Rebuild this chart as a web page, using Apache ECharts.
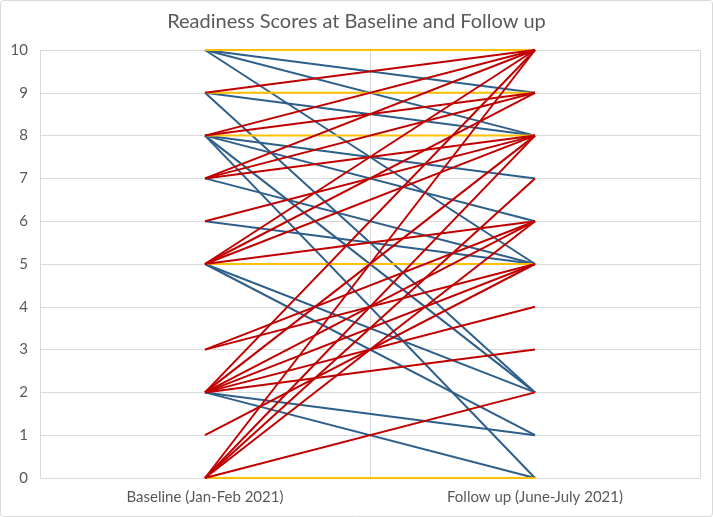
<!DOCTYPE html>
<html>
<head>
<meta charset="utf-8">
<script src="https://cdn.jsdelivr.net/npm/echarts@6/dist/echarts.min.js"></script>
<style>
  html, body { margin: 0; padding: 0; background: #fff; }
  #chart { width: 713px; height: 517px; }
</style>
</head>
<body>
<div id="chart"></div>
<script>
// Categories (x axis)
const categories = ['Baseline (Jan-Feb 2021)', 'Follow up (June-July 2021)'];
// Y tick labels
const yTicks = [0, 1, 2, 3, 4, 5, 6, 7, 8, 9, 10];
// One entry per participant: baseline score and follow-up score
const baseline = [10, 10, 10, 9, 9, 8, 8, 8, 8, 7, 6, 5, 5, 2, 2,
                  10, 9, 8, 5, 0,
                  9, 8, 8, 7, 7, 7, 6, 5, 5, 5, 5, 3, 3, 2, 2, 2, 2, 2, 2, 1, 0, 0, 0, 0, 0];
const followup = [9, 8, 5, 8, 2, 7, 6, 2, 0, 5, 5, 2, 1, 1, 0,
                  10, 9, 8, 5, 0,
                  10, 10, 9, 10, 9, 8, 8, 10, 9, 8, 6, 6, 5, 10, 8, 6, 5, 4, 3, 5, 10, 8, 7, 6, 2];

const COLOR_DOWN = '#2E5F8A';
const COLOR_UP = '#C00000';
const COLOR_SAME = '#FFC000';

const chart = echarts.init(document.getElementById('chart'), null, { renderer: 'canvas' });

const order = [];
baseline.forEach((b, i) => { if (followup[i] < b) order.push(i); });
baseline.forEach((b, i) => { if (followup[i] === b) order.push(i); });
baseline.forEach((b, i) => { if (followup[i] > b) order.push(i); });

const series = order.map(i => {
  const b = baseline[i], f = followup[i];
  const c = f > b ? COLOR_UP : (f < b ? COLOR_DOWN : COLOR_SAME);
  return {
    type: 'line',
    data: [b, f],
    symbol: 'none',
    silent: true,
    animation: false,
    lineStyle: { color: c, width: 2 }
  };
});

chart.setOption({
  animation: false,
  backgroundColor: '#fff',
  title: {
    text: 'Readiness Scores at Baseline and Follow up',
    left: 'center',
    top: 7,
    textStyle: { fontFamily: 'Lato', fontSize: 20, fontWeight: 'normal', color: '#595959' }
  },
  grid: { left: 40, right: 13, top: 50, bottom: 39, containLabel: false },
  xAxis: {
    type: 'category',
    data: categories,
    boundaryGap: true,
    axisLine: { show: true, lineStyle: { color: '#D9D9D9', width: 1 } },
    axisTick: { show: false },
    splitLine: { show: true, lineStyle: { color: '#D9D9D9', width: 1 } },
    axisLabel: { margin: 12, fontFamily: 'Lato', fontSize: 15, color: '#595959' }
  },
  yAxis: {
    type: 'value',
    min: yTicks[0],
    max: yTicks[yTicks.length - 1],
    interval: 1,
    axisLine: { show: false },
    axisTick: { show: false },
    splitLine: { show: true, lineStyle: { color: '#D9D9D9', width: 1 } },
    axisLabel: { margin: 12, fontFamily: 'Lato', fontSize: 15, color: '#595959' }
  },
  graphic: [{
    type: 'rect',
    shape: { x: 0.5, y: 0.5, width: 712, height: 516, r: 3 },
    style: { fill: 'none', stroke: '#D9D9D9', lineWidth: 1 },
    silent: true
  }],
  series: series
});
</script>
</body>
</html>
